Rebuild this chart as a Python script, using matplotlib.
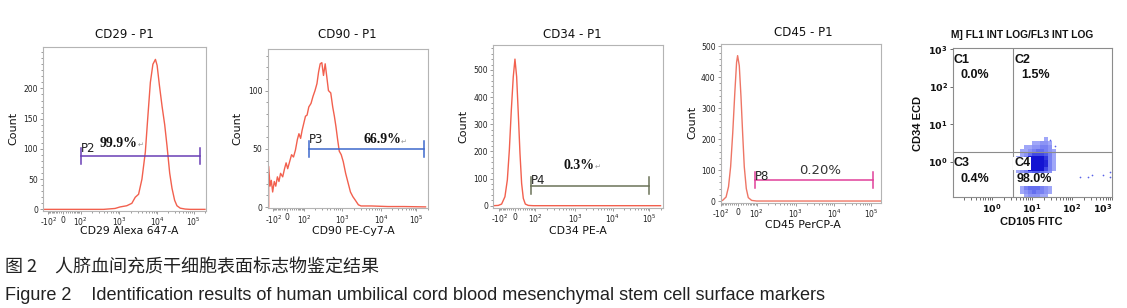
import numpy as np
import matplotlib
matplotlib.use('Agg')
import matplotlib.pyplot as plt
from matplotlib.colors import LinearSegmentedColormap
from matplotlib.ticker import FixedLocator, NullFormatter, MultipleLocator, LogLocator

plt.rcParams['font.family'] = ['DejaVu Sans']
plt.rcParams['mathtext.default'] = 'regular'

# ---------------- data ----------------
# histograms: fluorescence value -> count
cd29_x = [-150, 0, 400, 778, 1040, 1563, 2123, 2606, 3190, 3908, 4800, 5535, 6500, 7580,
          8830, 9780, 11300, 13400, 15800, 18300, 21700, 25100, 29700, 34400, 42400, 58000,
          80000, 200000]
cd29_n = [0, 0, 0, 1.5, 4, 6, 10, 20, 25, 50, 95, 150, 210, 240,
          248, 238, 205, 170, 140, 105, 60, 35, 15, 6, 2, 0.5,
          0, 0]

cd90_x = [-137, -137, -125, -115, -105, -90, -75, -61, -49, -38, -25, -14.7, -6.5, 1.4,
          9.9, 18.6, 27.9, 38, 49, 59, 71, 83, 98, 110, 122, 136, 156, 176, 199, 224, 247,
          272, 300, 331, 366, 402, 444, 509, 571, 630, 692, 763, 841, 943, 1064, 1225,
          1413, 1630, 1880, 2170, 2610, 3060, 5640, 15800, 45200, 175000]
cd90_n = [0, 35, 18, 23, 13, 22, 18, 26, 22, 29, 26, 33, 38, 33,
          39, 45, 43, 49, 58, 63, 59, 66, 72, 78, 79, 86, 89, 95, 100, 106, 116,
          123, 124, 113, 123, 112, 100, 98, 86, 78, 69, 58, 48, 45, 39, 29,
          21, 13, 9, 6, 2, 1, 1, 0.5, 0.5, 0.2]

cd34_x = [-150, -107, -78, -53, -38, -27, -17, -7.8, 0, 6.1, 12.1, 18.5, 25, 32, 41, 56, 87, 200000]
cd34_n = [0, 1, 6, 33, 95, 205, 353, 475, 540, 475, 340, 193, 82, 27, 6, 1, 0, 0]

cd45_x = [-120, -87, -61, -46, -34.6, -24.3, -14.9, -7.3, -2.9, 3.9, 10.5, 17.3, 24.3, 33.5,
          43.3, 62.6, 99, 200000]
cd45_n = [0, 2, 13, 46, 111, 220, 350, 448, 470, 437, 339, 220, 111, 40, 11, 2, 0, 0]

# gates
gate_names = ['P2', 'P3', 'P4', 'P8']
gate_pct = ['99.9%', '66.9%', '0.3%', '0.20%']
gate_lo = [103, 136, 70, 86]
gate_hi = [149000, 158000, 100000, 115000]
gate_y = [88, 49.7, 74, 67]

titles = ['CD29 - P1', 'CD90 - P1', 'CD34 - P1', 'CD45 - P1']
xlabels = ['CD29 Alexa 647-A', 'CD90 PE-Cy7-A', 'CD34 PE-A', 'CD45 PerCP-A']
y_ticks = [[0, 50, 100, 150, 200], [0, 50, 100], [0, 100, 200, 300, 400, 500], [0, 100, 200, 300, 400, 500]]

# dot plot CD105 / CD34: density of events per 0.1-decade cell (top row first)
dot_density = [
    [0, 0, 0, 0, 0, 0, 0, 1, 0, 0],
    [0, 0, 0, 0, 1, 1, 2, 2, 1, 0],
    [0, 0, 1, 1, 2, 2, 3, 3, 2, 0],
    [0, 1, 1, 2, 3, 4, 4, 3, 2, 1],
    [0, 1, 2, 4, 6, 6, 6, 5, 3, 1],
    [1, 1, 3, 9, 10, 10, 9, 7, 3, 1],
    [1, 2, 3, 10, 10, 10, 10, 8, 3, 1],
    [1, 2, 3, 10, 10, 10, 10, 8, 3, 1],
    [1, 2, 3, 9, 10, 10, 9, 6, 3, 1],
    [1, 2, 3, 4, 5, 5, 4, 3, 2, 0],
    [1, 1, 2, 3, 3, 3, 3, 2, 1, 0],
    [0, 1, 1, 2, 2, 2, 2, 1, 1, 0],
    [0, 1, 2, 3, 3, 3, 3, 2, 1, 0],
    [0, 1, 3, 4, 4, 4, 3, 2, 1, 0],
    [0, 1, 2, 3, 4, 3, 3, 2, 1, 0],
    [0, 0, 1, 2, 2, 2, 1, 1, 0, 0],
]
stray_x = [155, 251, 309, 603, 871, 871, 28, 37]
stray_y = [0.40, 0.40, 0.45, 0.45, 0.54, 0.40, 3.8, 2.6]
quad_x = 3.3
quad_y = 1.78
quad_names = ['C1', 'C2', 'C3', 'C4']
quad_pct = ['0.0%', '1.5%', '0.4%', '98.0%']

W, H = 1127, 308
fig = plt.figure(figsize=(W / 100, H / 100), dpi=100)


def rect(l, t, r, b):
    return [l / W, 1 - b / H, (r - l) / W, (b - t) / H]


def biex(anchor_pos):
    # anchors for -1e2, 0, 1e2, 1e3, 1e4, 1e5, in decade units
    vals = np.array([-1e5, -100, 0, 100, 1e3, 1e4, 1e5, 1e7])
    pos = np.array([anchor_pos[0] - 3] + list(anchor_pos) + [anchor_pos[-1] + 2])
    u = np.arcsinh(vals / 50)

    def fwd(x):
        return np.interp(np.arcsinh(np.asarray(x, float) / 50), u, pos)

    def inv(p):
        return 50 * np.sinh(np.interp(np.asarray(p, float), pos, u))
    return fwd, inv


hist_x = [cd29_x, cd90_x, cd34_x, cd45_x]
hist_n = [cd29_n, cd90_n, cd34_n, cd45_n]
specs = [
    dict(box=(43.3, 47.3, 205.7, 210.7), anc=[-0.40, 0, 0.46, 1.50, 2.52, 3.49], xl=(-0.536, 3.81),
         yl=(-2.2, 268), ymin=10, lc='#f2604e', gc='#6a3fb5',
         tt=(124.5, 35), xt=(129, 231), yt=(13, 128), pl=(0.232, 0.382), pc=(0.345, 0.4125), pct_bold=True),
    dict(box=(267.7, 49, 428.3, 208.3), anc=[-0.375, 0, 0.446, 1.47, 2.51, 3.46], xl=(-0.527, 3.777),
         yl=(-1, 135.7), ymin=10, lc='#f2604e', gc='#3d68cc',
         tt=(347, 35), xt=(353, 231), yt=(237, 128), pl=(0.259, 0.429), pc=(0.595, 0.429), pct_bold=True),
    dict(box=(493.3, 45, 663.3, 207.7), anc=[-0.42, 0, 0.536, 1.607, 2.616, 3.598], xl=(-0.58, 3.973),
         yl=(-7.4, 592), ymin=20, lc='#f2604e', gc='#6b7358',
         tt=(572, 35), xt=(578, 231), yt=(463, 126), pl=(0.22, 0.17), pc=(0.412, 0.258), pct_bold=True),
    dict(box=(720.7, 44, 880.7, 202.7), anc=[-0.46, 0, 0.493, 1.54, 2.566, 3.56], xl=(-0.472, 3.818),
         yl=(-5.4, 507.6), ymin=20, lc='#ee7565', gc='#e0409a',
         tt=(803, 33), xt=(803, 225), yt=(692, 122), pl=(0.214, 0.164), pc=(0.491, 0.2016), pct_bold=False),
]

xt_vals = [-100, 0, 100, 1e3, 1e4, 1e5]
xt_labs = ['-$10^{2}$', '0', '$10^{2}$', '$10^{3}$', '$10^{4}$', '$10^{5}$']
x_minor = [-90, -80, -70, -60, -50, -40, -30, -20, -10, 10, 20, 30, 40, 50, 60, 70, 80, 90]
for dec in [100, 1000, 10000, 100000]:
    x_minor += [k * dec for k in range(2, 10)]

for i, s in enumerate(specs):
    ax = fig.add_axes(rect(*s['box']))
    fwd, inv = biex(s['anc'])
    ax.set_xscale('function', functions=(fwd, inv))
    ax.plot(hist_x[i], hist_n[i], color=s['lc'], lw=1.0)
    ax.set_xlim(inv(s['xl'][0]), inv(s['xl'][1]))
    ax.set_ylim(*s['yl'])
    ax.xaxis.set_major_locator(FixedLocator(xt_vals))
    ax.set_xticklabels(xt_labs)
    ax.xaxis.set_minor_locator(FixedLocator(x_minor))
    ax.xaxis.set_minor_formatter(NullFormatter())
    ax.yaxis.set_major_locator(FixedLocator(y_ticks[i]))
    ax.yaxis.set_minor_locator(MultipleLocator(s['ymin']))
    ax.tick_params(which='both', direction='out', color='#8c8c8c', width=0.6, labelsize=5.5, pad=1.2,
                   labelcolor='#222222')
    ax.tick_params(which='major', length=2.5)
    ax.tick_params(which='minor', length=1.3)
    for sp in ax.spines.values():
        sp.set_color('#b4b4b4')
        sp.set_linewidth(0.8)

    # gate bar with end caps
    gy = gate_y[i]
    cap = (s['yl'][1] - s['yl'][0]) * 0.05
    ax.plot([gate_lo[i], gate_hi[i]], [gy, gy], color=s['gc'], lw=1.1)
    ax.plot([gate_lo[i], gate_lo[i]], [gy - cap, gy + cap], color=s['gc'], lw=1.1)
    ax.plot([gate_hi[i], gate_hi[i]], [gy - cap, gy + cap], color=s['gc'], lw=1.1)
    ax.text(*s['pl'], gate_names[i], transform=ax.transAxes, fontsize=8.5, color='#222222',
            ha='left', va='center')
    if s['pct_bold']:
        t = ax.text(*s['pc'], gate_pct[i], transform=ax.transAxes, fontsize=10, family='Liberation Serif',
                    weight='bold', color='#111111', ha='left', va='center')
        ax.annotate('\u21b5', xy=(1, 0.15), xycoords=t, fontsize=5, color='#999999', ha='left', va='bottom')
    else:
        ax.text(*s['pc'], gate_pct[i], transform=ax.transAxes, fontsize=9.5, color='#333333',
                ha='left', va='center')

    fig.text(s['tt'][0] / W, 1 - s['tt'][1] / H, titles[i], fontsize=8.5, ha='center', va='center', color='#111111')
    fig.text(s['xt'][0] / W, 1 - s['xt'][1] / H, xlabels[i], fontsize=7.8, ha='center', va='center', color='#111111')
    fig.text(s['yt'][0] / W, 1 - s['yt'][1] / H, 'Count', fontsize=8, ha='center', va='center',
             rotation=90, color='#111111')

# ---------------- dot plot ----------------
ax = fig.add_axes(rect(952.7, 48.3, 1112.3, 197.3))
ax.set_xscale('log')
ax.set_yscale('log')
xe = 10 ** np.linspace(0.6, 1.6, 11)
ye = 10 ** np.linspace(-0.95, 0.65, 17)
dens = np.ma.masked_equal(np.array(dot_density, float)[::-1], 0)
cmap = LinearSegmentedColormap.from_list('dots', ['#aab0fa', '#5560ec', '#1414d2'])
ax.pcolormesh(xe, ye, dens, cmap=cmap, vmin=0.5, vmax=9, shading='flat')
ax.scatter(stray_x, stray_y, s=1.5, color='#5a62e8', lw=0)
ax.axvline(quad_x, color='#8c8c8c', lw=0.8)
ax.axhline(quad_y, color='#8c8c8c', lw=0.8)
ax.set_xlim(10 ** -0.97, 1000)
ax.set_ylim(10 ** -0.95, 10 ** 3.03)
ax.xaxis.set_major_locator(FixedLocator([1, 10, 100, 1000]))
ax.set_xticklabels([r'$\mathbf{10^{0}}$', r'$\mathbf{10^{1}}$', r'$\mathbf{10^{2}}$', r'$\mathbf{10^{3}}$'])
ax.xaxis.set_minor_locator(LogLocator(base=10, subs=np.arange(2, 10)))
ax.xaxis.set_minor_formatter(NullFormatter())
ax.yaxis.set_major_locator(FixedLocator([1, 10, 100, 1000]))
ax.set_yticklabels([r'$\mathbf{10^{0}}$', r'$\mathbf{10^{1}}$', r'$\mathbf{10^{2}}$', r'$\mathbf{10^{3}}$'])
ax.yaxis.set_minor_locator(FixedLocator([]))
ax.tick_params(which='both', direction='out', color='#555555', width=0.6, labelsize=6.8, pad=1.0,
               labelcolor='#111111')
ax.tick_params(which='major', length=2.5)
ax.tick_params(which='minor', length=2)
for lab in ax.get_xticklabels() + ax.get_yticklabels():
    lab.set_family('Liberation Sans')
ax.get_xticklabels()[-1].set_ha('right')
for sp in ax.spines.values():
    sp.set_color('#8c8c8c')
    sp.set_linewidth(0.8)

q_lab = [(0.008, 0.921), (0.385, 0.921), (0.008, 0.228), (0.385, 0.228)]
q_pct = [(0.05, 0.82), (0.432, 0.82), (0.05, 0.121), (0.401, 0.121)]
for j in range(4):
    bb = dict(facecolor='white', edgecolor='none', pad=0.5) if j == 3 else None
    ax.text(*q_lab[j], quad_names[j], transform=ax.transAxes, fontsize=9, weight='bold',
            family='Liberation Sans', ha='left', va='center', color='#111111', bbox=bb)
    ax.text(*q_pct[j], quad_pct[j], transform=ax.transAxes, fontsize=9, weight='bold',
            family='Liberation Sans', ha='left', va='center', color='#111111', bbox=bb)

fig.text(1021.7 / W, 1 - 35 / H, 'M] FL1 INT LOG/FL3 INT LOG', fontsize=7.4, weight='bold',
         family='Liberation Sans', ha='center', va='center', color='#111111')
fig.text(1031.7 / W, 1 - 222 / H, 'CD105 FITC', fontsize=8, weight='bold',
         family='Liberation Sans', ha='center', va='center', color='#111111')
fig.text(918.3 / W, 1 - 123.3 / H, 'CD34 ECD', fontsize=8, weight='bold', rotation=90,
         family='Liberation Sans', ha='center', va='center', color='#111111')

# ---------------- captions ----------------
fig.text(5 / W, 1 - 268 / H, '图 2\u3000人脐血间充质干细胞表面标志物鉴定结果', fontsize=13,
         family=['Noto Sans CJK SC', 'DejaVu Sans'], ha='left', va='center', color='#222222')
fig.text(5 / W, 1 - 295 / H,
         'Figure 2    Identification results of human umbilical cord blood mesenchymal stem cell surface markers',
         fontsize=13.1, family='Liberation Sans', ha='left', va='center', color='#222222')

fig.savefig('out.png', dpi=100)
